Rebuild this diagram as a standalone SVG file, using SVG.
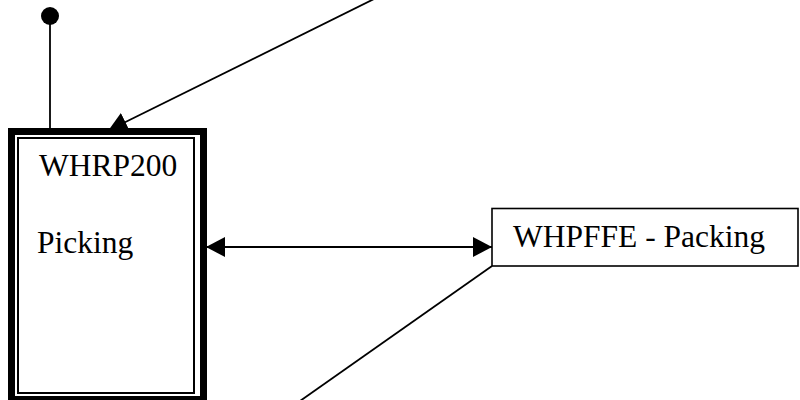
<svg xmlns="http://www.w3.org/2000/svg" width="800" height="400" viewBox="0 0 800 400">
  <style>
    .lbl { font-family: "Liberation Serif", "Times New Roman", serif; font-size: 31.5px; fill: #000; }
    .ln { stroke: #000; stroke-width: 1.8; fill: none; }
  </style>
  <defs>
    <marker id="ah" viewBox="0 0 19 20" refX="19" refY="10" markerWidth="19" markerHeight="20" markerUnits="userSpaceOnUse" orient="auto-start-reverse">
      <path d="M0,0 L19,10 L0,20 Z" fill="#000"/>
    </marker>
  </defs>
  <rect width="800" height="400" fill="#fff"/>
  <g id="connectors">
    <line class="ln" x1="50" y1="16" x2="50" y2="128"/>
    <circle cx="50" cy="16" r="9" fill="#000"/>
    <line class="ln" x1="374" y1="-1" x2="108.3" y2="130.5" marker-end="url(#ah)"/>
    <line class="ln" x1="206" y1="247" x2="492" y2="247" marker-start="url(#ah)" marker-end="url(#ah)"/>
    <line class="ln" x1="492" y1="266" x2="300" y2="401"/>
  </g>
  <g id="picking">
    <rect x="11.5" y="131.5" width="192" height="268" fill="none" stroke="#000" stroke-width="7"/>
    <rect x="18" y="138" width="176" height="255" fill="none" stroke="#000" stroke-width="2"/>
    <text class="lbl" x="39" y="175.5">WHRP200</text>
    <text class="lbl" x="37" y="252.5">Picking</text>
  </g>
  <g id="packing">
    <rect x="492" y="208.5" width="306" height="57.5" fill="#fff" stroke="#000" stroke-width="1.6"/>
    <text class="lbl" x="513" y="247">WHPFFE - Packing</text>
  </g>
</svg>
